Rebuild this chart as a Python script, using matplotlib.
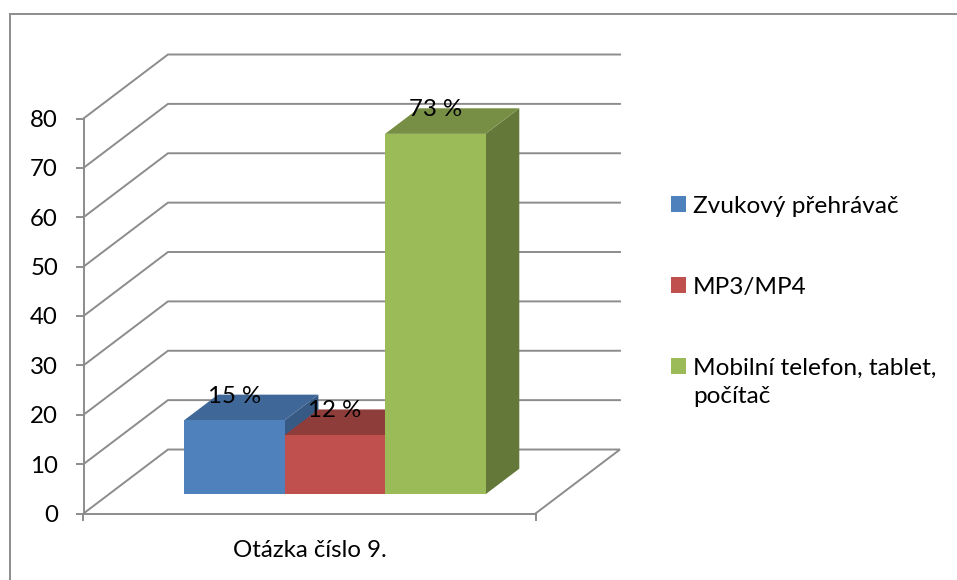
import matplotlib
matplotlib.use("Agg")
import matplotlib.pyplot as plt
from matplotlib.patches import Polygon, Patch
from matplotlib.lines import Line2D

plt.rcParams['font.family'] = ['Lato', 'DejaVu Sans']

category = "Otázka číslo 9."
series_names = ["Zvukový přehrávač", "MP3/MP4", "Mobilní telefon, tablet,\npočítač"]
values = [15, 12, 73]
value_labels = ["15 %", "12 %", "73 %"]
y_ticks = [0, 10, 20, 30, 40, 50, 60, 70, 80]
colors_front = ["#4F81BD", "#C0504D", "#9BBB59"]
colors_top = ["#3F6797", "#8F3D3B", "#778F45"]
colors_side = ["#375A84", "#7F3533", "#64783A"]

W, H = 957, 580
GRID = "#8C8C8C"
FS = 17.3

fig = plt.figure(figsize=(W / 100, H / 100), dpi=100, facecolor="white")
fig.add_artist(Line2D([9.5 / W, 9.5 / W, 1], [0, 1 - 13.5 / H, 1 - 13.5 / H], transform=fig.transFigure,
                      color=GRID, lw=1.4, solid_joinstyle="miter"))

ax = fig.add_axes([83.5 / W, 1 - 513.5 / H, 452 / W, 395 / H])
xmin, xmax = -1.25, 3.25
ax.set_xlim(xmin, xmax)
ax.set_ylim(0, 80)
ax.patch.set_visible(False)

# oblique projection: one unit of depth moves a point right and up in data units
DX = 0.841
DY = 12.96


def proj(x, y, d):
    return (x + d * DX, y + d * DY)


for v in y_ticks:
    pts = [proj(xmin, v, 0), proj(xmin, v, 1), proj(xmax, v, 1)]
    if v == 0:
        pts.append(proj(xmax, v, 0))
    ax.plot(*zip(*pts), color=GRID, lw=1.4, clip_on=False, zorder=1, solid_joinstyle="miter")

D0, D1 = 0.3, 0.7
HALF = 0.5
for i, v in enumerate(values):
    xl, xr = i - HALF, i + HALF
    front = [proj(xl, 0, D0), proj(xr, 0, D0), proj(xr, v, D0), proj(xl, v, D0)]
    top = [proj(xl, v, D0), proj(xr, v, D0), proj(xr, v, D1), proj(xl, v, D1)]
    side = [proj(xr, 0, D0), proj(xr, 0, D1), proj(xr, v, D1), proj(xr, v, D0)]
    z = 2 + i
    ax.add_patch(Polygon(side, fc=colors_side[i], ec="none", clip_on=False, zorder=z))
    ax.add_patch(Polygon(top, fc=colors_top[i], ec="none", clip_on=False, zorder=z))
    ax.add_patch(Polygon(front, fc=colors_front[i], ec="none", clip_on=False, zorder=z))

for i, v in enumerate(values):
    x, y = proj(i, v, D0)
    ax.text(x, y + 4.9, value_labels[i], ha="center", va="center", fontsize=FS, color="black",
            zorder=10, clip_on=False)

for s in ("top", "right"):
    ax.spines[s].set_visible(False)
for s in ("left", "bottom"):
    ax.spines[s].set_color(GRID)
    ax.spines[s].set_linewidth(1.4)
ax.set_yticks(y_ticks)
ax.set_xticks([xmin, xmax], ["", ""])
ax.set_xticks([1], [category], minor=True)
ax.tick_params(axis="y", length=6, width=1.4, color=GRID, labelsize=FS, pad=12.4)
ax.tick_params(axis="x", which="major", length=5, width=1.4, color=GRID)
ax.tick_params(axis="x", which="minor", length=0, labelsize=FS, pad=19)

handles = [Patch(fc=c, ec="none") for c in colors_front]
leg = fig.legend(handles, series_names, loc="upper left", bbox_to_anchor=(671 / W, 1 - 196 / H),
                 bbox_transform=fig.transFigure, frameon=False, fontsize=17.6, borderaxespad=0, borderpad=0,
                 labelspacing=2.46, handlelength=0.61, handleheight=0.61, handletextpad=0.28)
for t in leg.get_texts():
    t.set_linespacing(1.4)
for row in leg._legend_handle_box.get_children()[0].get_children():
    row.align = "top"

fig.savefig("out.png", dpi=100, facecolor="white")
